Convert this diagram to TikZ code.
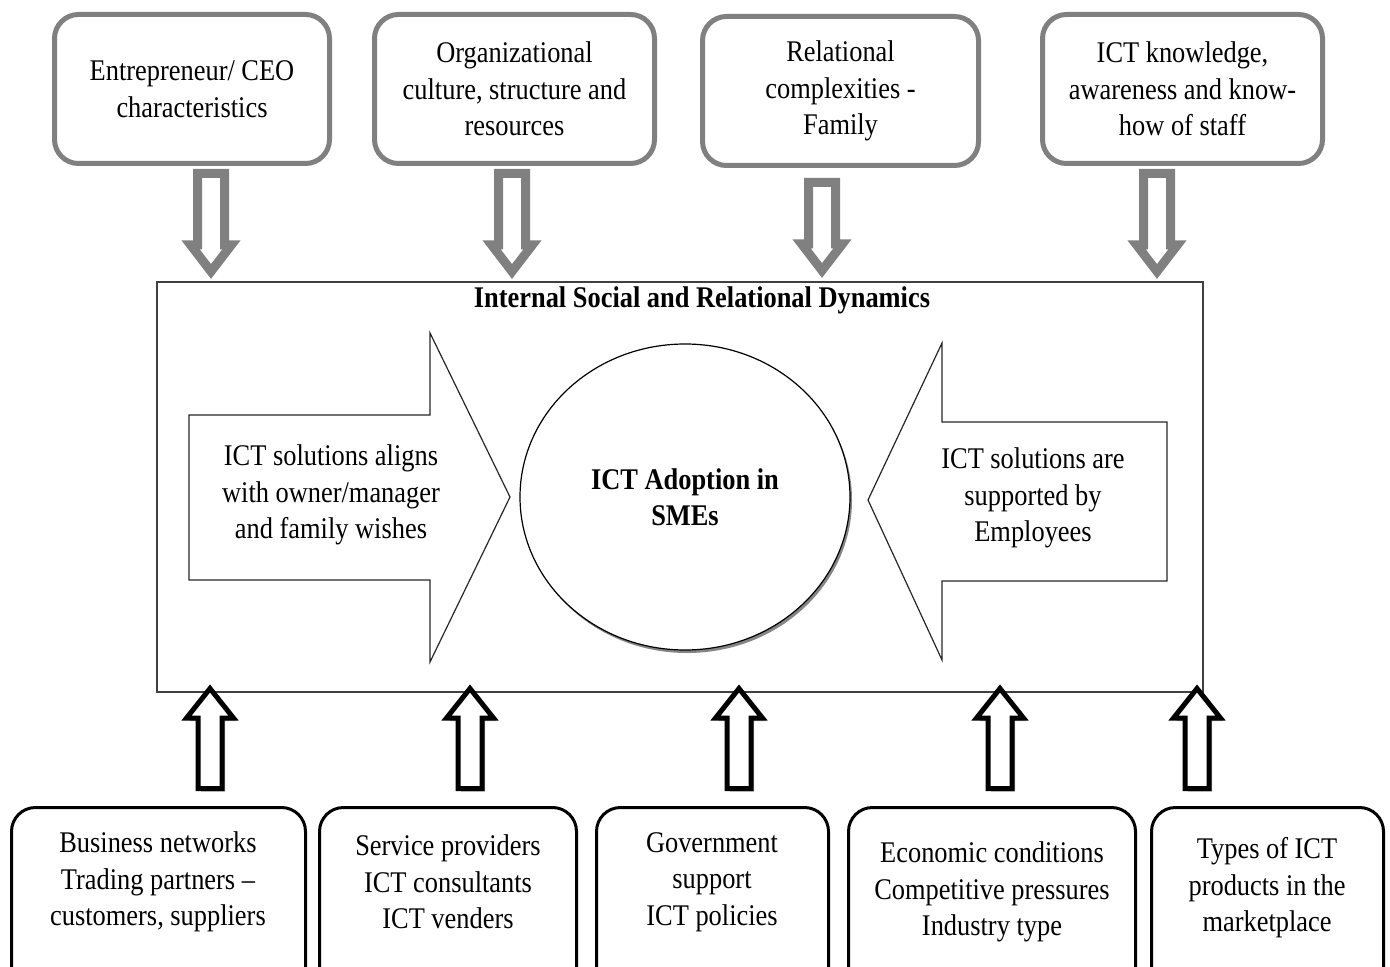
\documentclass[tikz,border=0pt]{standalone}
\usepackage{fontspec}
\setmainfont{Liberation Serif}[FakeStretch=0.88]
\usetikzlibrary{shapes.geometric,shapes.arrows,shadows}

\tikzset{
  topbox/.style={draw=black!50,line width=2.5pt,rounded corners=12pt,align=center,
    anchor=north,minimum height=74.5pt,minimum width=#1},
  botbox/.style={draw=black,line width=1.5pt,rounded corners=12pt,
    anchor=north,minimum height=100pt,minimum width=#1},
  graydown/.style={single arrow,draw=black!50,fill=white,line width=4.5pt,
    shape border rotate=270,anchor=tail,minimum width=0pt,minimum height=49pt,
    single arrow head extend=3.5pt,single arrow tip angle=75,inner sep=4.5pt},
  blackup/.style={single arrow,draw=black,fill=white,line width=2.5pt,
    shape border rotate=90,anchor=tail,minimum width=0pt,minimum height=50pt,
    single arrow head extend=5.75pt,single arrow tip angle=77,inner sep=4.75pt,
    drop shadow={shadow xshift=1.5pt,shadow yshift=-1.5pt,fill=black!30,opacity=1}},
  txt/.style={align=center,inner sep=0pt}
}

\begin{document}
\begin{tikzpicture}[x=0.5pt,y=-0.5pt,font=\fontsize{15}{18.25}\selectfont]

\clip (0,0) rectangle (1390,967);

\node[topbox=137.5pt] (ceo) at (192,12) {Entrepreneur/ CEO\\characteristics};
\node[topbox=140pt] (org) at (514.5,12) {Organizational\\culture, structure and\\resources};
\node[topbox=138pt] (fam) at (840.5,14) {Relational\\complexities -\\Family};
\node[topbox=140pt] (know) at (1182.5,12) {ICT knowledge,\\awareness and know-\\how of staff};

\node[draw=black!75,line width=0.8pt,minimum width=523pt,minimum height=205pt] (isrd) at (680,487) {};
\node[txt,font=\fontsize{15}{18.25}\selectfont\bfseries] (isrdtitle) at (702,300) {Internal Social and Relational Dynamics};

\node[graydown] (a1) at (211,169) {};
\node[graydown] (a2) at (512,169) {};
\node[graydown,minimum height=44pt] (a3) at (822,178) {};
\node[graydown] (a4) at (1157,169) {};

\draw[line width=0.6pt,draw=black!85] (189,415) -- (430,415) -- (430,333) -- (510,497) -- (430,662) -- (430,580) -- (189,580) -- cycle;
\draw[line width=0.6pt,draw=black!85] (1167,422) -- (942,422) -- (942,343) -- (868,500) -- (942,660) -- (942,581) -- (1167,581) -- cycle;

\node[txt] (wishes) at (331,495) {ICT solutions aligns\\with owner/manager\\and family wishes};
\node[txt] (staff) at (1033,498) {ICT solutions are\\supported by\\Employees};

\node[ellipse,draw,fill=white,line width=0.6pt,minimum width=165pt,minimum height=153pt,align=center,
  drop shadow={shadow xshift=1pt,shadow yshift=-1.5pt,fill=black!60,opacity=0.8},
  font=\fontsize{15}{18.25}\selectfont\bfseries] (core) at (685,497) {ICT Adoption in\\SMEs};

\node[blackup] (b1) at (210,791) {};
\node[blackup] (b2) at (470,791) {};
\node[blackup] (b3) at (739,791) {};
\node[blackup] (b4) at (1000,791) {};
\node[blackup] (b5) at (1197,791) {};

\node[botbox=147pt] (net) at (158.5,806) {};
\node[botbox=128.5pt] (prov) at (448,806) {};
\node[botbox=116pt] (gov) at (712.5,806) {};
\node[botbox=143.5pt] (econ) at (992,806) {};
\node[botbox=116pt] (types) at (1267.5,806) {};

\node[txt] (nettxt) at (158,882) {Business networks\\Trading partners --\\customers, suppliers};
\node[txt] (provtxt) at (448,882) {Service providers\\ICT consultants\\ICT venders};
\node[txt] (govtxt) at (712,882) {Government\\support\\ICT policies};
\node[txt] (econtxt) at (992,892) {Economic conditions\\Competitive pressures\\Industry type};
\node[txt] (typestxt) at (1267,888) {Types of ICT\\products in the\\marketplace};

\end{tikzpicture}
\end{document}
